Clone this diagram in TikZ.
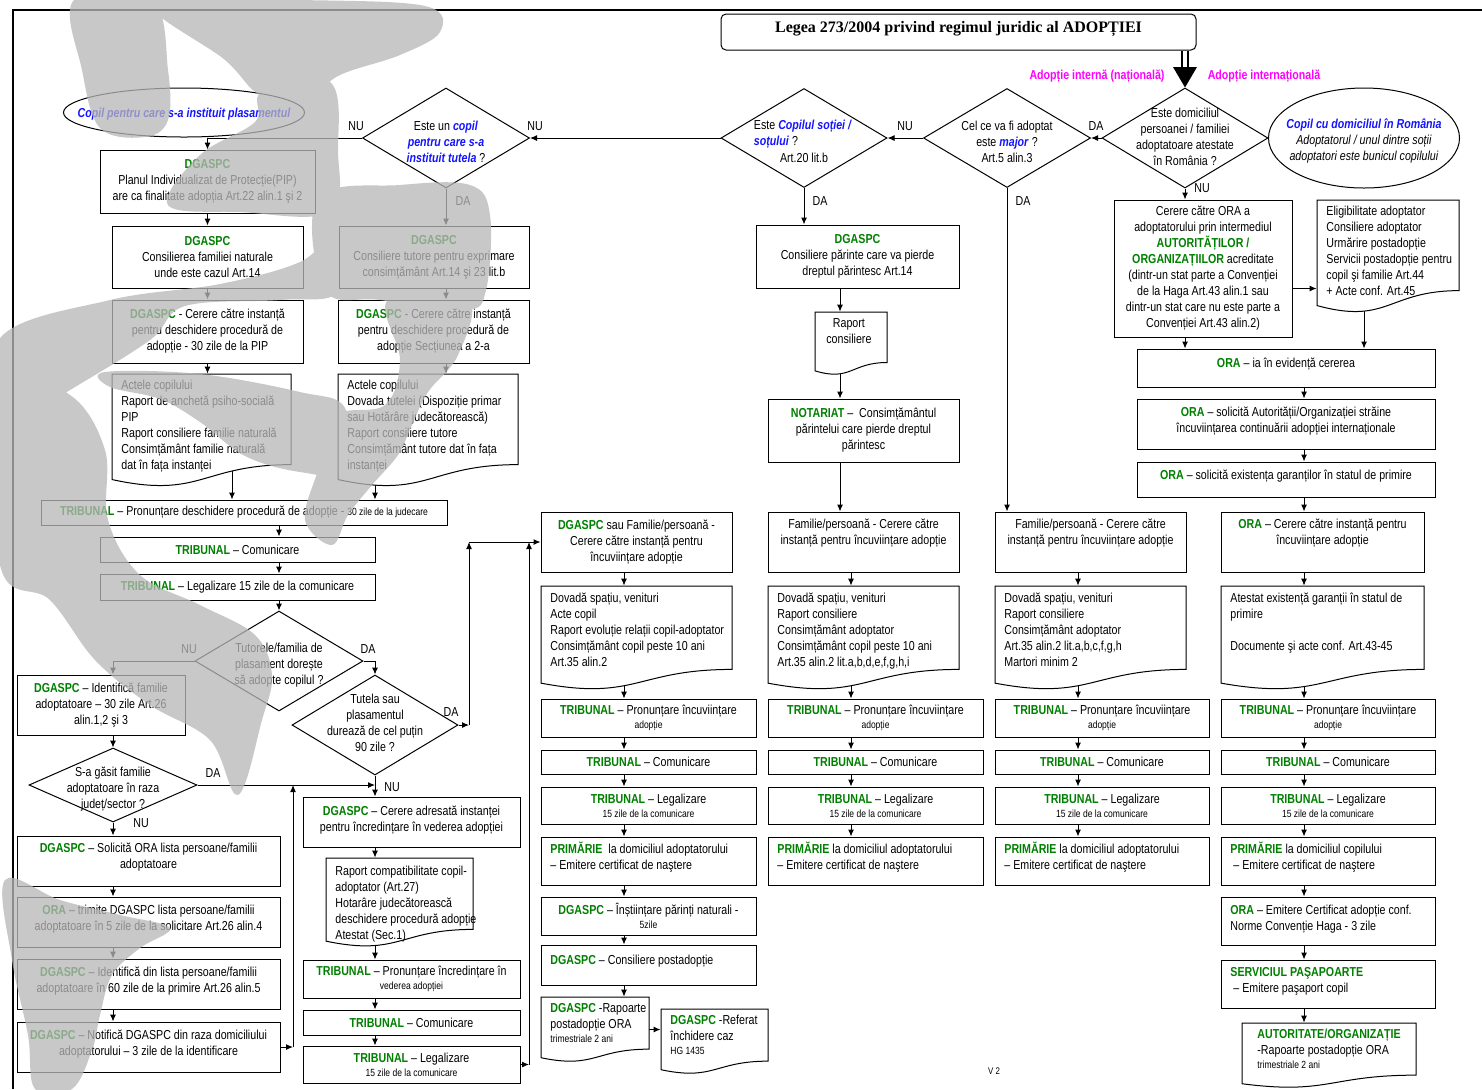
\documentclass[tikz,border=0pt]{standalone}
\usepackage{fontspec}
\setmainfont{Liberation Sans}[FakeStretch=0.82]
\newfontfamily\ttlfont{Liberation Serif}
\usetikzlibrary{arrows.meta,shapes.geometric}
\definecolor{dg}{RGB}{0,128,0}
\definecolor{bl}{RGB}{20,20,255}
\definecolor{mg}{RGB}{255,0,255}
\definecolor{wm}{RGB}{183,183,183}
\pgfdeclarelayer{bg}
\pgfdeclarelayer{fg}
\pgfsetlayers{bg,main,fg}
\newcommand\G[1]{\textcolor{dg}{\textbf{#1}}}
\newcommand\BI[1]{\textcolor{bl}{\textbf{\textit{#1}}}}
\newcommand\sm[1]{{\fontsize{5.2}{6}\selectfont #1}}
\tikzset{
 box/.style={draw,line width=0.5pt,fill=white,inner sep=0pt,rectangle},
 docst/.style={draw,line width=0.5pt,fill=white},
 dia/.style={draw,line width=0.5pt,fill=white,diamond,inner sep=0pt},
 ell/.style={draw,line width=0.5pt,fill=white,ellipse,inner sep=0pt},
 txt/.style={align=center,inner sep=0pt,font=\fontsize{6.5}{8}\selectfont},
 lbl/.style={inner sep=0pt,font=\fontsize{6.5}{8}\selectfont},
 mgl/.style={inner sep=0pt,text=mg,font=\fontsize{6.5}{8}\selectfont\bfseries},
 arr/.style={line width=0.5pt,-{Latex[length=3.5pt,width=3pt]}},
 wmark/.style={fill=wm,fill opacity=0.76},
}
% box: name x1 y1 x2 y2 boxstyle textstyle text
\newcommand\bx[8]{%
 \node[box,#6,minimum width={(#4-#2)*0.5pt},minimum height={(#5-#3)*0.5pt}] (#1) at ({(#2+#4)/2},{(#3+#5)/2}) {};
 \node[txt,#7] (#1t) at (#1.center) {#8};}
\newcommand\bxl[8]{%
 \node[box,#6,minimum width={(#4-#2)*0.5pt},minimum height={(#5-#3)*0.5pt}] (#1) at ({(#2+#4)/2},{(#3+#5)/2}) {};
 \node[txt,align=left,anchor=west,#7] (#1t) at ({#2+9},{(#3+#5)/2}) {#8};}
% document: name x1 y1 x2 y2 textstyle text
\newcommand\dc[7]{%
 \path[docst] (#2,#3) -- (#4,#3) -- (#4,{#3+0.802*(#5-#3)}) .. controls ({(#2+#4)/2},{#3+0.802*(#5-#3)}) and ({(#2+#4)/2},{#3+1.107*(#5-#3)}) .. (#2,{#3+0.934*(#5-#3)}) -- cycle;
 \node[inner sep=0pt,minimum width={(#4-#2)*0.5pt},minimum height={(#5-#3)*0.5pt}] (#1) at ({(#2+#4)/2},{(#3+#5)/2}) {};
 \node[txt,align=left,anchor=north west,#6] (#1t) at ({#2+9},{#3+6}) {#7};}
% diamond: name cx cy w h texty text
\newcommand\dm[7]{%
 \node[dia,minimum width={#4*0.5pt},minimum height={#5*0.5pt}] (#1) at (#2,#3) {};
 \node[txt] (#1t) at (#2,#6) {#7};}
\begin{document}
\begin{tikzpicture}[x=0.5pt,y=-0.5pt]
\useasboundingbox (0,0) rectangle (1482,1089);
\draw[line width=0.9pt] (13,1089) -- (13,10) -- (1482,10);

% title
\node[box,rounded corners=2.5pt,minimum width=237.5pt,minimum height=18pt] (title) at (958.5,32) {};
\node[inner sep=0pt,font=\ttlfont\bfseries\fontsize{8}{9}\selectfont] (titlet) at (958.5,29) {Legea 273/2004 privind regimul juridic al ADOPȚIEI};
\node[mgl] (lint) at (1097,76) {Adopție internă (națională)};
\node[mgl] (lext) at (1264,76) {Adopție internațională};

% top decisions
\dm{D1}{1185}{138}{166}{100}{137}{Este domiciliul\\persoanei / familiei\\adoptatoare atestate\\în România ?}
\dm{D2}{1007}{138}{167}{99}{142}{Cel ce va fi adoptat\\este \BI{major} ?\\Art.5 alin.3}
\node[dia,minimum width=83pt,minimum height=49.5pt] (D3) at (804,138) {};
\node[txt,align=left] (D3t) at (803,134) {Este \BI{Copilul soției /}\\\BI{soțului} ?};
\node[txt] (D3u) at (804,158) {Art.20 lit.b};
\dm{D4}{446}{138}{167}{100}{142}{Este un \BI{copil}\\\BI{pentru care s-a}\\\BI{instituit tutela} ?}
\node[ell,minimum width=120.5pt,minimum height=24.5pt] (E1) at (184,112.5) {};
\node[txt] (E1t) at (184,114) {\BI{Copil pentru care s-a instituit plasamentul}};
\node[ell,minimum width=95.5pt,minimum height=50pt] (E2) at (1364,138) {};
\node[txt] (E2t) at (1364,141) {\BI{Copil cu domiciliul în România}\\\textit{Adoptatorul / unul dintre soții}\\\textit{adoptatori este bunicul copilului}};

% left branch
\bx{B1}{100}{150}{315}{213}{}{}{\G{DGASPC}\\Planul Individualizat de Protecție(PIP)\\are ca finalitate adopția Art.22 alin.1 şi 2}
\bx{B2}{112}{226}{303}{288}{}{}{\G{DGASPC}\\Consilierea familiei naturale\\unde este cazul Art.14}
\bx{B3}{112}{300}{303}{363}{}{}{\G{DGASPC} - Cerere către instanță\\pentru deschidere procedură de\\adopție - 30 zile de la PIP}
\dc{B4}{112}{374}{291}{487}{}{Actele copilului\\Raport de anchetă psiho-socială\\PIP\\Raport consiliere familie naturală\\Consimțământ familie naturală\\dat în fața instanței}
\bx{B5}{339}{226}{529}{288}{}{}{\G{DGASPC}\\Consiliere tutore pentru exprimare\\consimțământ Art.14 şi 23 lit.b}
\bx{B6}{338}{300}{529}{363}{}{}{\G{DGASPC} - Cerere către instanță\\pentru deschidere procedură de\\adopție Secțiunea a 2-a}
\dc{B8}{338}{374}{518}{487}{}{Actele copilului\\Dovada tutelei (Dispoziție primar\\sau Hotărâre judecătorească)\\Raport consiliere tutore\\Consimțământ tutore dat în fața\\instanței}
\bx{T1}{41}{500}{447}{525}{}{}{\G{TRIBUNAL} – Pronunțare deschidere procedură de adopție - \sm{30 zile de la judecare}}
\bx{T2}{100}{537}{375}{562}{}{}{\G{TRIBUNAL} – Comunicare}
\bx{T3}{100}{574}{375}{600}{}{}{\G{TRIBUNAL} – Legalizare 15 zile de la comunicare}
\dm{D5}{279}{661}{168}{100}{665}{Tutorele/familia de\\plasament dorește\\să adopte copilul ?}
\bx{N1}{17}{675}{185}{735}{}{}{\G{DGASPC} – Identifică familie\\adoptatoare – 30 zile Art.26\\alin.1,2 şi 3}
\dm{D6}{375}{725}{166}{100}{723}{Tutela sau\\plasamentul\\durează de cel puțin\\90 zile ?}
\dm{D7}{113}{785}{168}{74}{789}{S-a găsit familie\\adoptatoare în raza\\județ/sector ?}
\bx{M1}{17}{836}{280}{886}{}{yshift=2pt}{\G{DGASPC} – Solicită ORA lista persoane/familii\\adoptatoare}
\bx{M2}{17}{897}{280}{947}{}{yshift=1.25pt}{\G{ORA} – trimite DGASPC lista persoane/familii\\adoptatoare în 5 zile de la solicitare Art.26 alin.4}
\bx{M3}{17}{959}{280}{1009}{}{yshift=1.25pt}{\G{DGASPC} – Identifică din lista persoane/familii\\adoptatoare în 60 zile de la primire Art.26 alin.5}
\bx{M4}{17}{1022}{280}{1072}{}{yshift=1.5pt}{\G{DGASPC} – Notifică DGASPC din raza domiciliului\\adoptatorului – 3 zile de la identificare}
\bx{P1}{303}{797}{520}{847}{}{yshift=1pt}{\G{DGASPC} – Cerere adresată instanței\\pentru încredințare în vederea adopției}
\dc{P2}{326}{858}{473}{947}{yshift=-1pt}{Raport compatibilitate copil-\\adoptator (Art.27)\\Hotarâre judecătorească\\deschidere procedură adopție\\Atestat (Sec.1)}
\bx{P3}{303}{960}{520}{998}{}{}{\G{TRIBUNAL} – Pronunțare încredințare în\\[-1pt]\sm{vederea adopției}}
\bx{P4}{303}{1010}{520}{1035}{}{}{\G{TRIBUNAL} – Comunicare}
\bx{P5}{303}{1046}{520}{1083}{}{}{\G{TRIBUNAL} – Legalizare\\[-1pt]\sm{15 zile de la comunicare}}

% column A
\bx{F1}{541}{512}{732}{572}{}{}{\G{DGASPC} sau Familie/persoană -\\Cerere către instanță pentru\\încuviințare adopție}
\dc{F2}{541}{586}{732}{690}{}{Dovadă spațiu, venituri\\Acte copil\\Raport evoluție relații copil-adoptator\\Consimțământ copil peste 10 ani\\Art.35 alin.2}
\bx{F3}{541}{699}{756}{737}{}{}{\G{TRIBUNAL} – Pronunțare încuviințare\\[-1pt]\sm{adopție}}
\bx{F4}{541}{750}{756}{774}{}{}{\G{TRIBUNAL} – Comunicare}
\bx{F5}{541}{787}{756}{824}{}{}{\G{TRIBUNAL} – Legalizare\\[-1pt]\sm{15 zile de la comunicare}}
\bxl{F6}{541}{837}{756}{885}{}{yshift=2pt}{\G{PRIMĂRIE}\ \ la domiciliul adoptatorului\\– Emitere certificat de naştere}
\bx{F7}{541}{897}{756}{935}{}{}{\G{DGASPC} – Înștiințare părinți naturali -\\[-1pt]\sm{5zile}}
\bxl{F8}{541}{945}{756}{985}{}{yshift=2pt}{\G{DGASPC} – Consiliere postadopție}
\dc{F9}{541}{997}{649}{1062}{}{\G{DGASPC} -Rapoarte\\postadopție ORA\\[-1pt]\sm{trimestriale 2 ani}}
\dc{F10}{661}{1009}{768}{1074}{}{\G{DGASPC} -Referat\\închidere caz\\[-1pt]\sm{HG 1435}}

% column B
\bx{C1}{756}{225}{959}{288}{}{}{\G{DGASPC}\\Consiliere părinte care va pierde\\dreptul părintesc Art.14}
\dc{R1}{815}{312}{887}{375}{align=center,xshift=1pt}{Raport\\consiliere}
\bx{NOT}{768}{399}{959}{462}{}{}{\G{NOTARIAT} –\ \ Consimțământul\\părintelui care pierde dreptul\\părintesc}
\bx{G1}{768}{512}{959}{572}{}{yshift=4.5pt}{Familie/persoană - Cerere către\\instanță pentru încuviințare adopție}
\dc{G2}{768}{586}{959}{690}{}{Dovadă spațiu, venituri\\Raport consiliere\\Consimțământ adoptator\\Consimțământ copil peste 10 ani\\Art.35 alin.2 lit.a,b,d,e,f,g,h,i}
\bx{G3}{768}{699}{983}{737}{}{}{\G{TRIBUNAL} – Pronunțare încuviințare\\[-1pt]\sm{adopție}}
\bx{G4}{768}{750}{983}{774}{}{}{\G{TRIBUNAL} – Comunicare}
\bx{G5}{768}{787}{983}{824}{}{}{\G{TRIBUNAL} – Legalizare\\[-1pt]\sm{15 zile de la comunicare}}
\bxl{G6}{768}{837}{983}{885}{}{yshift=2pt}{\G{PRIMĂRIE} la domiciliul adoptatorului\\– Emitere certificat de naştere}

% column C
\bx{H1}{995}{512}{1186}{572}{}{yshift=4.5pt}{Familie/persoană - Cerere către\\instanță pentru încuviințare adopție}
\dc{H2}{995}{586}{1186}{690}{}{Dovadă spațiu, venituri\\Raport consiliere\\Consimțământ adoptator\\Art.35 alin.2 lit.a,b,c,f,g,h\\Martori minim 2}
\bx{H3}{995}{699}{1209}{737}{}{}{\G{TRIBUNAL} – Pronunțare încuviințare\\[-1pt]\sm{adopție}}
\bx{H4}{995}{750}{1209}{774}{}{}{\G{TRIBUNAL} – Comunicare}
\bx{H5}{995}{787}{1209}{824}{}{}{\G{TRIBUNAL} – Legalizare\\[-1pt]\sm{15 zile de la comunicare}}
\bxl{H6}{995}{837}{1209}{885}{}{yshift=2pt}{\G{PRIMĂRIE} la domiciliul adoptatorului\\– Emitere certificat de naştere}

% international
\bx{K1}{1114}{200}{1292}{337}{}{}{Cerere către ORA a\\adoptatorului prin intermediul\\\G{AUTORITĂȚILOR /}\\\G{ORGANIZAȚIILOR} acreditate\\(dintr-un stat parte a Convenției\\de la Haga Art.43 alin.1 sau\\dintr-un stat care nu este parte a\\Convenției Art.43 alin.2)}
\dc{K2}{1317}{200}{1459}{313}{}{Eligibilitate adoptator\\Consiliere adoptator\\Urmărire postadopție\\Servicii postadopție pentru\\copil şi familie Art.44\\+ Acte conf. Art.45}
\bx{L1}{1137}{349}{1435}{387}{}{yshift=2pt}{\G{ORA} – ia în evidență cererea}
\bx{L2}{1137}{399}{1435}{449}{}{yshift=1.5pt}{\G{ORA} – solicită Autorității/Organizației străine\\încuviințarea continuării adopției internaționale}
\bx{L3}{1137}{462}{1435}{497}{}{yshift=1.75pt}{\G{ORA} – solicită existența garanților în statul de primire}
\bx{I1}{1221}{512}{1424}{572}{}{yshift=4.5pt}{\G{ORA} – Cerere către instanță pentru\\încuviințare adopție}
\dc{I2}{1221}{586}{1424}{690}{}{Atestat existență garanții în statul de\\primire\\[8pt]Documente şi acte conf. Art.43-45}
\bx{I3}{1221}{699}{1435}{737}{}{}{\G{TRIBUNAL} – Pronunțare încuviințare\\[-1pt]\sm{adopție}}
\bx{I4}{1221}{750}{1435}{774}{}{}{\G{TRIBUNAL} – Comunicare}
\bx{I5}{1221}{787}{1435}{824}{}{}{\G{TRIBUNAL} – Legalizare\\[-1pt]\sm{15 zile de la comunicare}}
\bxl{I6}{1221}{837}{1435}{885}{}{yshift=2pt}{\G{PRIMĂRIE} la domiciliul copilului\\\ – Emitere certificat de naştere}
\bxl{I7}{1221}{897}{1435}{945}{}{yshift=0.75pt}{\G{ORA} – Emitere Certificat adopție conf.\\Norme Convenție Haga - 3 zile}
\bxl{I8}{1221}{960}{1435}{1008}{}{yshift=1.25pt}{\G{SERVICIUL PAŞAPOARTE}\\\ – Emitere paşaport copil}
\dc{I9}{1242}{1023}{1416}{1088}{xshift=3pt}{\G{AUTORITATE/ORGANIZAȚIE}\\-Rapoarte postadopție ORA\\[-1pt]\sm{trimestriale 2 ani}}

\node[inner sep=0pt,font=\fontsize{4.8}{5}\selectfont] (ver) at (994,1071) {V 2};

% labels
\node[lbl] (l1) at (1096,126) {DA};
\node[lbl] (l2) at (905,126) {NU};
\node[lbl] (l3) at (535,126) {NU};
\node[lbl] (l4) at (356,126) {NU};
\node[lbl] (l5) at (463,201) {DA};
\node[lbl] (l6) at (820,201) {DA};
\node[lbl] (l7) at (1023,201) {DA};
\node[lbl] (l8) at (1202,188) {NU};
\node[lbl] (l9) at (189,649) {NU};
\node[lbl] (l10) at (368,649) {DA};
\node[lbl] (l11) at (451,712) {DA};
\node[lbl] (l12) at (213,773) {DA};
\node[lbl] (l13) at (141,823) {NU};
\node[lbl] (l14) at (392,787) {NU};

% connectors
\begin{pgfonlayer}{bg}
\coordinate (cA) at (624,0);
\coordinate (cB) at (851,0);
\coordinate (cB0) at (840,0);
\coordinate (cC) at (1078,0);
\coordinate (cD) at (1304,0);
\coordinate (cK) at (1364,0);
\coordinate (cL) at (113,0);
\coordinate (c232) at (232,0);
\coordinate (c279) at (279,0);
\coordinate (c375) at (375,0);
\coordinate (c446) at (446,0);
\coordinate (cM) at (293,0);
\coordinate (cR1) at (469,0);
\coordinate (cR2) at (529,0);
\coordinate (tA) at (1173,67);
\coordinate (tB) at (1197,67);
\draw[line width=0.6pt] ([xshift=-1.5pt]title.south -| D1.north) -- ([xshift=-1.5pt]tA -| D1.north);
\draw[line width=0.6pt] ([xshift=1.5pt]title.south -| D1.north) -- ([xshift=1.5pt]tA -| D1.north);
\fill (tA) -- (tB) -- (D1.north) -- cycle;
\draw[arr] (D1.west) -- (D2.east);
\draw[arr] (D2.west) -- (D3.east);
\draw[arr] (D3.west) -- (D4.east);
\draw[arr] (D4.west) -| (B1.north);
\draw[arr] (B1.south) -- (B2.north);
\draw[arr] (B2.south) -- (B3.north);
\draw[arr] (B3.south) -- (B3.south |- B4.north);
\draw[arr] (c232 |- B4.center) -- (c232 |- T1.north);
\draw[arr] (D4.south) -- (D4.south |- B5.north);
\draw[arr] (c446 |- B5.south) -- (c446 |- B6.north);
\draw[arr] (c446 |- B6.south) -- (c446 |- B8.north);
\draw[arr] (c375 |- B8.center) -- (c375 |- T1.north);
\draw[arr] (c279 |- T1.south) -- (c279 |- T2.north);
\draw[arr] (c279 |- T2.south) -- (c279 |- T3.north);
\draw[arr] (c279 |- T3.south) -- (D5.north);
\draw[arr] (D5.west) -| (cL |- N1.north);
\draw[arr] (D5.east) -| (D6.north);
\draw[arr] (cL |- N1.south) -- (D7.north);
\draw[arr] (D7.south) -- (cL |- M1.north);
\draw[arr] (D7.east) -- (D7.east -| D6.south);
\draw[arr] (cL |- M1.south) -- (cL |- M2.north);
\draw[arr] (cL |- M2.south) -- (cL |- M3.north);
\draw[arr] (cL |- M3.south) -- (cL |- M4.north);
\draw[arr] (M4.east) -- (cM |- M4.east);
\draw[arr] (cM |- M4.east) -- (cM |- D7.east);
\draw[arr] (D6.south) -- (D6.south |- P1.north);
\draw[arr] (c375 |- P1.south) -- (c375 |- P2.north);
\draw[arr] (c375 |- P2.center) -- (c375 |- P3.north);
\draw[arr] (c375 |- P3.south) -- (c375 |- P4.north);
\draw[arr] (c375 |- P4.south) -- (c375 |- P5.north);
\draw[arr] (P5.east) -- (cR2 |- P5.east);
\draw[arr] (cR2 |- P5.east) -- (cR2 |- F1.west);
\draw[arr] (D6.east) -- (cR1 |- D6.east);
\draw[arr] (cR1 |- D6.east) -- (cR1 |- F1.west);
\draw[arr] (cR1 |- F1.west) -- (F1.west);
% column A
\draw[arr] (cA |- F1.south) -- (cA |- F2.north);
\draw[arr] (cA |- F2.center) -- (cA |- F3.north);
\draw[arr] (cA |- F3.south) -- (cA |- F4.north);
\draw[arr] (cA |- F4.south) -- (cA |- F5.north);
\draw[arr] (cA |- F5.south) -- (cA |- F6.north);
\draw[arr] (cA |- F6.south) -- (cA |- F7.north);
\draw[arr] (cA |- F7.south) -- (cA |- F8.north);
\draw[arr] (cA |- F8.south) -- (cA |- F9.north);
\draw[arr] (F9.east) -- (F9.east -| F10.west);
% column B
\draw[arr] (D3.south) -- (D3.south |- C1.north);
\draw[arr] (cB0 |- C1.south) -- (cB0 |- R1.north);
\draw[arr] (cB0 |- R1.center) -- (cB0 |- NOT.north);
\draw[arr] (cB0 |- NOT.south) -- (cB0 |- G1.north);
\draw[arr] (cB |- G1.south) -- (cB |- G2.north);
\draw[arr] (cB |- G2.center) -- (cB |- G3.north);
\draw[arr] (cB |- G3.south) -- (cB |- G4.north);
\draw[arr] (cB |- G4.south) -- (cB |- G5.north);
\draw[arr] (cB |- G5.south) -- (cB |- G6.north);
% column C
\draw[arr] (D2.south) -- (D2.south |- H1.north);
\draw[arr] (cC |- H1.south) -- (cC |- H2.north);
\draw[arr] (cC |- H2.center) -- (cC |- H3.north);
\draw[arr] (cC |- H3.south) -- (cC |- H4.north);
\draw[arr] (cC |- H4.south) -- (cC |- H5.north);
\draw[arr] (cC |- H5.south) -- (cC |- H6.north);
% column D
\draw[arr] (D1.south) -- (D1.south |- K1.north);
\draw[arr] ([yshift=-10pt]K1.east) -- ([yshift=-10pt]K1.east -| K2.west);
\draw[arr] (D1.south |- K1.south) -- (D1.south |- L1.north);
\draw[arr] (cK |- K2.center) -- (cK |- L1.north);
\draw[arr] (cD |- L1.south) -- (cD |- L2.north);
\draw[arr] (cD |- L2.south) -- (cD |- L3.north);
\draw[arr] (cD |- L3.south) -- (cD |- I1.north);
\draw[arr] (cD |- I1.south) -- (cD |- I2.north);
\draw[arr] (cD |- I2.center) -- (cD |- I3.north);
\draw[arr] (cD |- I3.south) -- (cD |- I4.north);
\draw[arr] (cD |- I4.south) -- (cD |- I5.north);
\draw[arr] (cD |- I5.south) -- (cD |- I6.north);
\draw[arr] (cD |- I6.south) -- (cD |- I7.north);
\draw[arr] (cD |- I7.south) -- (cD |- I8.north);
\draw[arr] (cD |- I8.south) -- (cD |- I9.north);
\end{pgfonlayer}

% background watermark (semi-transparent grey swooshes over the left part)
\begin{pgfonlayer}{fg}
\fill[wmark]
 plot[smooth cycle,tension=0.6] coordinates {(74,0) (152,0) (168,70) (168,120) (145,137) (100,128) (82,70)}
 plot[smooth cycle,tension=0.6] coordinates {(150,0) (300,0) (425,6) (440,32) (400,55) (340,75) (305,100) (260,95) (225,60)}
 plot[smooth cycle,tension=0.6] coordinates {(262,92) (330,82) (338,150) (330,212) (240,212) (168,205) (200,155) (255,122)}
 plot[smooth cycle,tension=0.6] coordinates {(318,198) (400,185) (470,185) (490,215) (486,290) (465,310) (380,300) (325,290)}
 plot[smooth cycle,tension=0.6] coordinates {(0,338) (110,300) (220,284) (300,262) (338,232) (338,292) (280,300) (185,306) (150,340) (70,390) (0,430)}
 plot[smooth cycle,tension=0.6] coordinates {(388,300) (468,300) (458,355) (428,392) (412,425) (398,455) (372,485) (348,515) (332,545) (305,520) (318,470) (335,416) (385,405) (400,360)}
 plot[smooth cycle,tension=0.6] coordinates {(105,372) (200,374) (300,392) (345,408) (345,470) (300,472) (245,456) (200,422) (160,399) (110,387)}
 plot[smooth cycle,tension=0.6] coordinates {(0,380) (70,395) (105,450) (108,520) (140,575) (200,605) (255,635) (272,675) (262,720) (238,795) (210,740) (150,705) (95,660) (50,600) (0,565)}
 plot[smooth cycle,tension=0.6] coordinates {(5,880) (60,900) (120,915) (170,928) (140,948) (112,975) (100,1015) (92,1050) (72,1089) (35,1089) (28,1035) (12,960)};
\end{pgfonlayer}
\end{tikzpicture}
\end{document}
